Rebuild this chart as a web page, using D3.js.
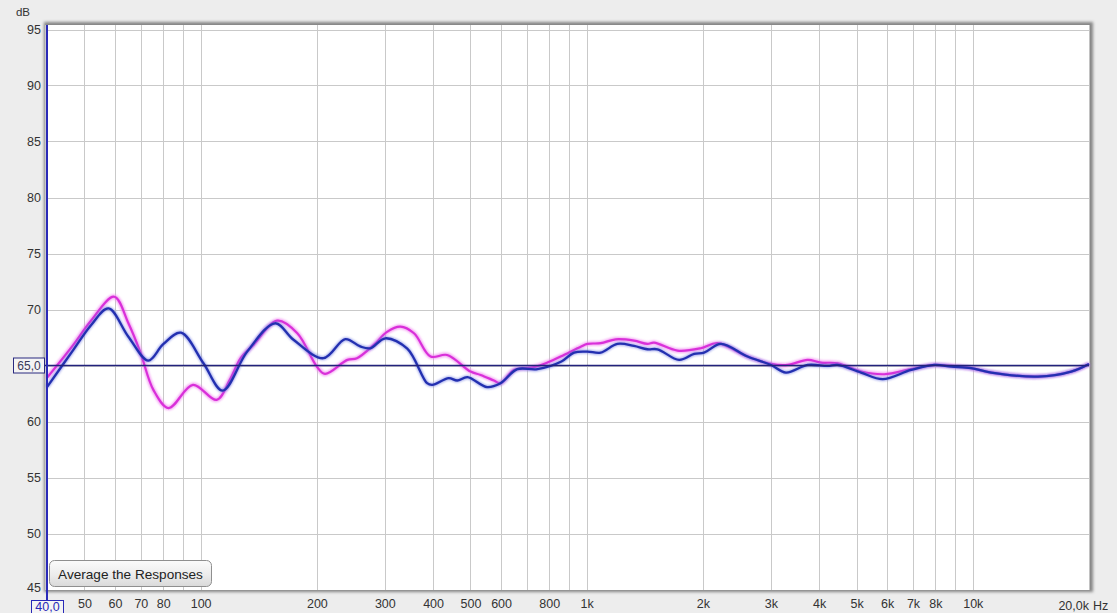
<!DOCTYPE html>
<html>
<head>
<meta charset="utf-8">
<script src="https://cdn.jsdelivr.net/npm/d3@7/dist/d3.min.js"></script>
<style>
  html, body { margin: 0; padding: 0; background: #ededed; }
  svg { display: block; }
  text { font-family: "Liberation Sans", Arial, sans-serif; }
</style>
</head>
<body>
<svg id="chart" width="1117" height="613"></svg>
<script>
// Frequency response measurements (Hz -> dB SPL)
const magentaFreq = [40, 46.8, 52, 59.7, 65, 69.7, 75.5, 82.6, 95.5, 110, 119, 127, 137, 158, 178, 200, 210, 240, 254, 281, 304, 329, 357, 394, 435, 500, 531, 575, 598, 648, 730, 791, 873, 965, 1004, 1087, 1189, 1326, 1437, 1494, 1718, 1975, 2182, 2610, 3000, 3314, 3735, 4043, 4467, 5135, 5900, 6920, 7955, 8788, 9903, 11160, 14750, 17990, 20000];
const magentaDb   = [63.9, 66.84, 69.0, 71.14, 68.77, 66.24, 62.8, 61.2, 63.27, 61.93, 63.72, 65.65, 66.84, 69.0, 67.88, 64.9, 64.25, 65.5, 65.65, 66.84, 68.0, 68.47, 67.88, 65.8, 65.94, 64.46, 64.16, 63.66, 63.42, 64.6, 64.85, 65.26, 65.94, 66.68, 66.93, 66.99, 67.34, 67.22, 66.93, 67.04, 66.33, 66.54, 66.99, 65.8, 65.14, 65.05, 65.5, 65.26, 65.2, 64.46, 64.22, 64.67, 65.05, 64.96, 64.76, 64.37, 64.01, 64.46, 65.14];

const blueFreq = [40, 46.8, 52, 57.7, 65, 73.2, 80, 88.9, 101.7, 114, 132, 156, 174, 208, 237, 259, 275, 301, 343, 386, 398, 439, 462, 491, 552, 598, 661, 745, 860, 927, 1004, 1087, 1201, 1326, 1437, 1525, 1735, 1898, 2014, 2226, 2610, 3000, 3281, 3735, 4208, 4467, 5135, 5843, 6920, 7955, 8788, 9903, 11160, 14750, 17990, 20000];
const blueDb   = [63.07, 66.4, 68.6, 70.1, 67.57, 65.44, 66.9, 67.93, 65.2, 62.76, 66.24, 68.77, 67.3, 65.65, 67.35, 66.7, 66.54, 67.43, 66.5, 63.42, 63.27, 63.87, 63.66, 63.96, 63.07, 63.42, 64.67, 64.67, 65.35, 66.15, 66.24, 66.15, 66.93, 66.75, 66.45, 66.45, 65.5, 66.03, 66.15, 66.93, 65.8, 65.05, 64.37, 65.05, 64.96, 65.05, 64.37, 63.78, 64.6, 65.05, 64.9, 64.76, 64.37, 64.01, 64.46, 65.14];

const yTicks = [50, 55, 60, 65, 70, 75, 80, 85, 90, 95];
const yTickLabels = ["50", "55", "60", "65", "70", "75", "80", "85", "90", "95"];
const xGrid = [50, 60, 70, 80, 90, 100, 200, 300, 400, 500, 600, 700, 800, 900, 1000, 2000, 3000, 4000, 5000, 6000, 7000, 8000, 9000, 10000];
const xTickValues = [50, 60, 70, 80, 100, 200, 300, 400, 500, 600, 800, 1000, 2000, 3000, 4000, 5000, 6000, 7000, 8000, 10000];
const xTickLabels = ["50", "60", "70", "80", "100", "200", "300", "400", "500", "600", "800", "1k", "2k", "3k", "4k", "5k", "6k", "7k", "8k", "10k"];
const referenceLevel = 65.0;
const startFreq = 40.0;

const svg = d3.select("#chart");
const x = d3.scaleLog().domain([40, 20000]).range([47, 1089]);
const y = d3.scaleLinear().domain([45, 95]).range([589.5, 29.5]);

// Defs: soft halo for the traces, shadow for the frame, button gradient
const defs = svg.append("defs");
const blur = defs.append("filter").attr("id", "halo").attr("x", "-5%").attr("y", "-20%").attr("width", "110%").attr("height", "140%");
blur.append("feGaussianBlur").attr("stdDeviation", 1.2);
const btnGrad = defs.append("linearGradient").attr("id", "btnGrad").attr("x1", 0).attr("y1", 0).attr("x2", 0).attr("y2", 1);
btnGrad.append("stop").attr("offset", "0%").attr("stop-color", "#fbfbfb");
btnGrad.append("stop").attr("offset", "55%").attr("stop-color", "#ececec");
btnGrad.append("stop").attr("offset", "100%").attr("stop-color", "#d9d9d9");
const shadow = defs.append("filter").attr("id", "frameShadow").attr("x", "-2%").attr("y", "-2%").attr("width", "104%").attr("height", "104%");
shadow.append("feGaussianBlur").attr("stdDeviation", 1.5);

// Plot frame
svg.append("rect").attr("x", 44).attr("y", 22).attr("width", 1049).attr("height", 570)
  .attr("fill", "#858585").attr("filter", "url(#frameShadow)");
svg.append("rect").attr("x", 45.5).attr("y", 25).attr("width", 1044).attr("height", 565)
  .attr("fill", "#ffffff");

// Grid
const grid = svg.append("g");
grid.selectAll(".hg").data(yTicks).join("line")
  .attr("x1", 46).attr("x2", 1089)
  .attr("y1", d => Math.round(y(d)) + 0.5).attr("y2", d => Math.round(y(d)) + 0.5)
  .attr("stroke", "#c9c9c9").attr("stroke-width", 1);
grid.selectAll(".vg").data(xGrid).join("line")
  .attr("x1", d => Math.round(x(d)) + 0.5).attr("x2", d => Math.round(x(d)) + 0.5)
  .attr("y1", 25).attr("y2", 590)
  .attr("stroke", "#c9c9c9").attr("stroke-width", 1);

// Y axis tick labels
const yAxis = d3.axisLeft(y).tickValues(yTicks.concat([45])).tickSize(0)
  .tickFormat(d => d === 45 ? "45" : yTickLabels[yTicks.indexOf(d)]);
const gy = svg.append("g").attr("transform", "translate(41,0)").call(yAxis);
gy.select(".domain").remove();
gy.selectAll("text").attr("font-size", 12.5).attr("fill", "#333").attr("x", 0)
  .attr("dy", d => d === 45 ? "0.15em" : "0.32em")
  .text(d => d === 65 ? "" : (d === 45 ? "45" : d));
svg.append("text").attr("x", 30).attr("y", 16).attr("text-anchor", "end")
  .attr("font-size", 11.5).attr("fill", "#333").text("dB");

// X axis tick labels
const xAxis = d3.axisBottom(x).tickValues(xTickValues).tickSize(0)
  .tickFormat(d => xTickLabels[xTickValues.indexOf(d)]);
const gx = svg.append("g").attr("transform", "translate(0,599)").call(xAxis);
gx.select(".domain").remove();
gx.selectAll("text").attr("font-size", 12.5).attr("fill", "#333").attr("dy", "0.71em").attr("y", 0);
svg.append("text").attr("x", x(20000)).attr("y", 610).attr("text-anchor", "end")
  .attr("font-size", 12.5).attr("fill", "#333").text("20,0k");
svg.append("text").attr("x", x(20000) + 4).attr("y", 610)
  .attr("font-size", 12.5).attr("fill", "#333").text("Hz");

// Traces
const line = d3.line().curve(d3.curveCatmullRom.alpha(0.5)).x(d => x(d[0])).y(d => y(d[1]));
const magenta = magentaFreq.map((f, i) => [f, magentaDb[i]]);
const blue = blueFreq.map((f, i) => [f, blueDb[i]]);
const traces = svg.append("g");
traces.append("path").datum(magenta).attr("d", line).attr("fill", "none")
  .attr("stroke", "#f07ef0").attr("stroke-width", 4.5).attr("opacity", 0.7).attr("filter", "url(#halo)");
traces.append("path").datum(magenta).attr("d", line).attr("fill", "none")
  .attr("stroke", "#d930d9").attr("stroke-width", 2.2);
traces.append("path").datum(blue).attr("d", line).attr("fill", "none")
  .attr("stroke", "#6a74e0").attr("stroke-width", 4).attr("opacity", 0.6).attr("filter", "url(#halo)");
traces.append("path").datum(blue).attr("d", line).attr("fill", "none")
  .attr("stroke", "#2330b0").attr("stroke-width", 2.3);

// Reference level line and its marker
svg.append("line").attr("x1", 45).attr("x2", 1089)
  .attr("y1", y(referenceLevel)).attr("y2", y(referenceLevel))
  .attr("stroke", "#22227c").attr("stroke-width", 1.3);
svg.append("rect").attr("x", 13.5).attr("y", y(referenceLevel) - 7.5).attr("width", 31).attr("height", 15)
  .attr("fill", "#f4f4f4").attr("stroke", "#2a2a80").attr("stroke-width", 1);
svg.append("text").attr("x", 29).attr("y", y(referenceLevel) + 4.5).attr("text-anchor", "middle")
  .attr("font-size", 12).attr("fill", "#3a3a5a").text(referenceLevel.toFixed(1).replace(".", ","));

// Start frequency cursor and its marker
svg.append("line").attr("x1", x(startFreq)).attr("x2", x(startFreq)).attr("y1", 25).attr("y2", 601)
  .attr("stroke", "#2a2ab8").attr("stroke-width", 2);
svg.append("rect").attr("x", 31.5).attr("y", 600.5).attr("width", 32).attr("height", 13)
  .attr("fill", "#f4f4f4").attr("stroke", "#2a2ab8").attr("stroke-width", 1);
svg.append("text").attr("x", 47.5).attr("y", 611).attr("text-anchor", "middle")
  .attr("font-size", 12.5).attr("fill", "#2a2ab8").text(startFreq.toFixed(1).replace(".", ","));

// Button
const btn = svg.append("g");
btn.append("rect").attr("x", 49.5).attr("y", 560.5).attr("width", 162).attr("height", 26).attr("rx", 5)
  .attr("fill", "url(#btnGrad)").attr("stroke", "#8f8f8f").attr("stroke-width", 1);
btn.append("text").attr("x", 130.5).attr("y", 578.5).attr("text-anchor", "middle")
  .attr("font-size", 13.6).attr("fill", "#222").text("Average the Responses");
</script>
</body>
</html>
